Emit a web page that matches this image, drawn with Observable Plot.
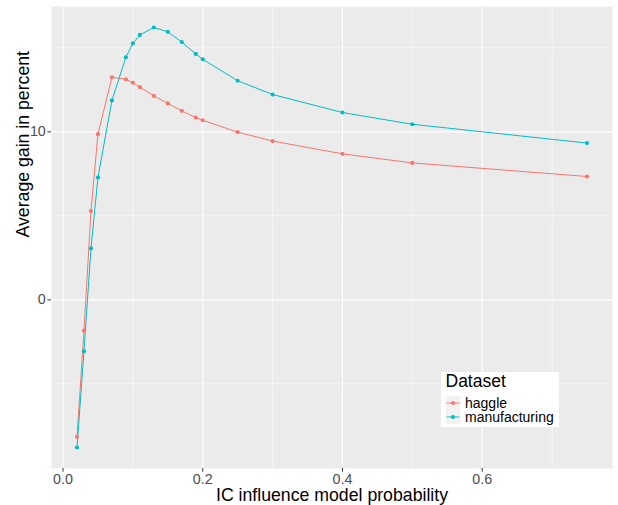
<!DOCTYPE html>
<html>
<head>
<meta charset="utf-8">
<script src="https://cdn.jsdelivr.net/npm/d3@7"></script>
<script src="https://cdn.jsdelivr.net/npm/@observablehq/plot@0.6"></script>
<style>
  html, body { margin: 0; padding: 0; background: #ffffff; }
  #chart { position: relative; width: 618px; height: 505px; font-family: "Liberation Sans", Arial, sans-serif; }
  #legend { position: absolute; left: 0; top: 0; pointer-events: none; }
</style>
</head>
<body>
<div id="chart"></div>
<script>
// Data
const probability = [0.02, 0.03, 0.04, 0.05, 0.07, 0.09, 0.10, 0.11, 0.13, 0.15, 0.17, 0.19, 0.20, 0.25, 0.30, 0.40, 0.50, 0.75];
const haggle = [-8.15, -1.83, 5.28, 9.86, 13.25, 13.13, 12.92, 12.66, 12.14, 11.69, 11.25, 10.85, 10.69, 9.98, 9.45, 8.69, 8.15, 7.34];
const manufacturing = [-8.79, -3.06, 3.06, 7.28, 11.87, 14.44, 15.26, 15.77, 16.21, 15.95, 15.34, 14.64, 14.32, 13.04, 12.22, 11.15, 10.45, 9.33];
const seriesNames = ["haggle", "manufacturing"];
const seriesColors = ["#F8766D", "#00BFC4"];
const xTicks = [0, 0.2, 0.4, 0.6];
const xMinor = [0.1, 0.3, 0.5, 0.7];
const yTicks = [0, 10];
const yMinor = [-5, 5, 15];
const xTitle = "IC influence model probability";
const yTitle = "Average gain in percent";
const legendTitle = "Dataset";

const rows = [];
probability.forEach((p, i) => rows.push({p, v: haggle[i], s: "haggle"}));
probability.forEach((p, i) => rows.push({p, v: manufacturing[i], s: "manufacturing"}));

// ggplot-like expansion (5%)
const xr = d3.extent(probability);
const allV = haggle.concat(manufacturing);
const yr = d3.extent(allV);
const xpad = (xr[1] - xr[0]) * 0.05, ypad = (yr[1] - yr[0]) * 0.05;

const font = "'Liberation Sans', Arial, sans-serif";

const plot = Plot.plot({
  width: 618,
  height: 505,
  marginLeft: 51,
  marginRight: 6,
  marginTop: 6,
  marginBottom: 37,
  style: {fontFamily: font, background: "#ffffff"},
  x: {domain: [xr[0] - xpad, xr[1] + xpad]},
  y: {domain: [yr[0] - ypad, yr[1] + ypad]},
  color: {domain: seriesNames, range: seriesColors},
  marks: [
    Plot.frame({fill: "#EBEBEB", stroke: null}),
    Plot.ruleX(xMinor, {stroke: "#ffffff", strokeWidth: 0.55}),
    Plot.ruleY(yMinor, {stroke: "#ffffff", strokeWidth: 0.55}),
    Plot.ruleX(xTicks, {stroke: "#ffffff", strokeWidth: 1.1}),
    Plot.ruleY(yTicks, {stroke: "#ffffff", strokeWidth: 1.1}),
    Plot.line(rows, {x: "p", y: "v", z: "s", stroke: "s", strokeWidth: 1}),
    Plot.dot(rows, {x: "p", y: "v", fill: "s", r: 2.1, stroke: null}),
    Plot.axisX({ticks: xTicks, tickFormat: d3.format(".1f"), tickSize: 3.7, tickPadding: 1.5, fontSize: 14.3, stroke: "#333333", fill: "#4D4D4D", label: null}),
    Plot.axisY({ticks: yTicks, tickFormat: d3.format("d"), tickSize: 3.7, tickPadding: 2, fontSize: 14.3, stroke: "#333333", fill: "#4D4D4D", label: null}),
    Plot.text([xTitle], {text: d => d, frameAnchor: "bottom", dy: 27, lineAnchor: "middle", fontSize: 17.7, fill: "#000000"}),
    Plot.text([yTitle], {text: d => d, frameAnchor: "left", dx: -28, rotate: -90, lineAnchor: "middle", fontSize: 17.7, fill: "#000000"})
  ]
});

const chart = document.getElementById("chart");
chart.appendChild(plot);

// Legend overlay (ggplot-style)
const lg = d3.select(chart).append("svg")
  .attr("id", "legend").attr("width", 618).attr("height", 505)
  .style("font-family", font);
const L = {x: 441, y: 372, w: 118, h: 55};
lg.append("rect").attr("x", L.x).attr("y", L.y).attr("width", L.w).attr("height", L.h).attr("fill", "#ffffff");
lg.append("text").attr("x", L.x + 4.5).attr("y", L.y + 15).attr("font-size", 17.5).attr("fill", "#000").text(legendTitle);
seriesNames.forEach((name, i) => {
  const ky = L.y + 24 + i * 14;
  const g = lg.append("g");
  g.append("rect").attr("x", L.x + 4.5).attr("y", ky).attr("width", 15).attr("height", 14).attr("fill", "#F2F2F2");
  g.append("line").attr("x1", L.x + 5.5).attr("x2", L.x + 18.5).attr("y1", ky + 7).attr("y2", ky + 7).attr("stroke", seriesColors[i]).attr("stroke-width", 1);
  g.append("circle").attr("cx", L.x + 12).attr("cy", ky + 7).attr("r", 2.1).attr("fill", seriesColors[i]);
  g.append("text").attr("x", L.x + 24).attr("y", ky + 11.5).attr("font-size", 14).attr("fill", "#000").text(name);
});
</script>
</body>
</html>
